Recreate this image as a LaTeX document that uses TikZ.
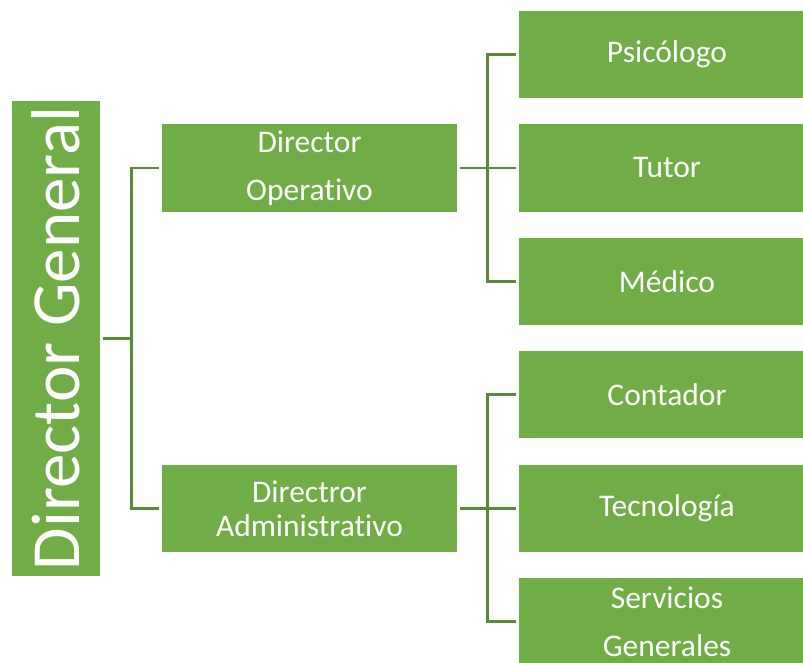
\documentclass[tikz,border=0pt]{standalone}
\usepackage{fontspec}
\setmainfont{Carlito}[Ligatures={NoCommon}]
\definecolor{boxgreen}{HTML}{70AD47}
\definecolor{linegreen}{RGB}{88,138,56}
\begin{document}
\begin{tikzpicture}[x=1pt,y=-1pt,
  gbox/.style={fill=boxgreen,draw=none,inner sep=0pt,text=white,align=center},
  conn/.style={draw=linegreen,line width=2.6pt,shorten <=3pt,shorten >=3pt},
  small/.style={font=\fontsize{31.5}{48}\selectfont}
]
\useasboundingbox (0,0) rectangle (803,662);
\clip (0,0) rectangle (803,662);
% root
\node[gbox,minimum width=88pt,minimum height=475pt] (DG) at (56,338.5) {};
\node[text=white,rotate=90,inner sep=0pt,font=\fontsize{69}{74}\selectfont] (DGt) at (DG.center) {Director General};
% second level
\node[gbox,small,minimum width=295pt,minimum height=88pt] (DO) at (309.5,168) {Director\\Operativo};
\node[gbox,font=\fontsize{31.5}{34}\selectfont,minimum width=295pt,minimum height=87pt] (DA) at (309.5,508.5) {Directror\\Administrativo};
% third level (boxes extend beyond right edge)
\node[gbox,small,minimum width=296pt,minimum height=87pt] (P) at (667,54.5) {Psicólogo};
\node[gbox,small,minimum width=296pt,minimum height=88pt] (T) at (667,168) {Tutor};
\node[gbox,small,minimum width=296pt,minimum height=87pt] (M) at (667,281.5) {Médico};
\node[gbox,small,minimum width=296pt,minimum height=87pt] (C) at (667,394.5) {Contador};
\node[gbox,small,minimum width=296pt,minimum height=87pt] (Te) at (667,508.5) {Tecnología};
\node[gbox,small,minimum width=296pt,minimum height=87pt] (S) at (667,621.5) {Servicios\\Generales};
% connectors
\draw[conn] (DG.east) -- ++(31,0) |- (DO.west);
\draw[conn] (DG.east) -- ++(31,0) |- (DA.west);
\draw[conn] (DO.east) -- ++(30,0) |- (P.west);
\draw[conn] (DO.east) -- (T.west);
\draw[conn] (DO.east) -- ++(30,0) |- (M.west);
\draw[conn] (DA.east) -- ++(30,0) |- (C.west);
\draw[conn] (DA.east) -- (Te.west);
\draw[conn] (DA.east) -- ++(30,0) |- (S.west);
\end{tikzpicture}
\end{document}
